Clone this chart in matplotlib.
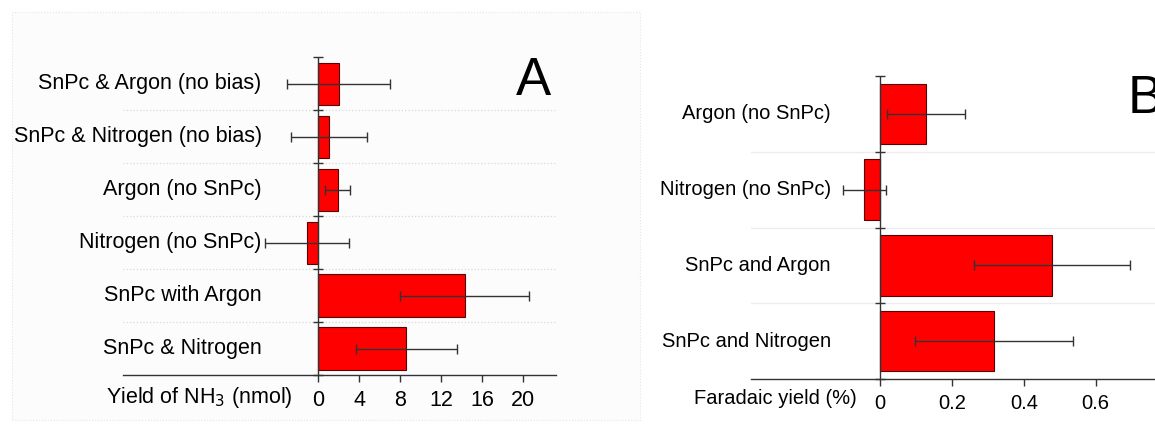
import matplotlib.pyplot as plt
import matplotlib.patches as mpatches
import numpy as np

plt.rcParams['font.family'] = ['Liberation Sans', 'DejaVu Sans']

# panel A: yield of NH3 (nmol)
A_LABELS = ['SnPc & Argon (no bias)', 'SnPc & Nitrogen (no bias)', 'Argon (no SnPc)',
            'Nitrogen (no SnPc)', 'SnPc with Argon', 'SnPc & Nitrogen']
A_VALUES = [2.0, 1.1, 1.9, -1.1, 14.3, 8.6]
A_ERRORS = [5.0, 3.7, 1.25, 4.1, 6.3, 4.9]
A_TICKS = [0, 4, 8, 12, 16, 20]

# panel B: faradaic yield (%)
B_LABELS = ['Argon (no SnPc)', 'Nitrogen (no SnPc)', 'SnPc and Argon', 'SnPc and Nitrogen']
B_VALUES = [0.128, -0.044, 0.479, 0.318]
B_ERRORS = [0.109, 0.06, 0.218, 0.22]
B_TICKS = [0, 0.2, 0.4, 0.6]

fig = plt.figure(figsize=(11.55, 4.32), dpi=100)

# faint background of the left pasted panel
fig.patches.append(mpatches.Rectangle((12 / 1155, 12 / 432), 628 / 1155, 408 / 432,
                                      transform=fig.transFigure, facecolor='#fcfcfc',
                                      edgecolor='#e6e6e6', lw=0.8, ls=':', zorder=-5))


def hbar_panel(ax, labels, values, errors, ticks, xlim, label_x, xlabel, xlabel_pos,
               letter, letter_pos, fs, grid_ls, grid_col):
    n = len(labels)
    y = np.arange(n)
    ax.set_xlim(*xlim)
    ax.set_ylim(n - 0.5, -0.5)
    for s in ['left', 'right', 'top']:
        ax.spines[s].set_visible(False)
    ax.spines['bottom'].set_color('#333333')
    ax.spines['bottom'].set_linewidth(1.0)
    ax.patch.set_alpha(0)

    for b in np.arange(0.5, n - 0.5, 1):
        ax.axhline(b, color=grid_col, lw=0.9, ls=grid_ls, zorder=0)

    ax.barh(y, values, height=0.8, color='#ff0000', edgecolor='#5a0000', lw=0.8, zorder=2)
    ax.errorbar(values, y, xerr=errors, fmt='none', ecolor='#333333', elinewidth=1.0,
                capsize=3.5, capthick=1.0, zorder=3)

    # vertical zero axis with small crossing ticks at the category borders
    ax.plot([0, 0], [-0.5, n - 0.5], color='#333333', lw=1.0, zorder=4)
    ax.plot(np.zeros(n + 1), np.arange(-0.5, n, 1), ls='none', marker='_',
            ms=7, mew=1.0, color='#333333', zorder=4, clip_on=False)

    ax.set_yticks([])
    ax.set_xticks(ticks)
    ax.set_xticklabels([('%g' % t) for t in ticks], fontsize=fs)
    ax.tick_params(axis='x', length=5, width=1.0, color='#333333', pad=6)

    for yi, lab in zip(y, labels):
        ax.text(label_x, yi, lab, ha='right', va='center', fontsize=fs)
    ax.text(xlabel_pos[0], xlabel_pos[1], xlabel, ha='right', va='center', fontsize=fs,
            transform=fig.transFigure)
    ax.text(letter_pos[0], letter_pos[1], letter, ha='left', va='center', fontsize=38,
            transform=fig.transFigure)


ax_a = fig.add_axes([0.1068, 0.132, 0.375, 0.735])
hbar_panel(ax_a, A_LABELS, A_VALUES, A_ERRORS, A_TICKS, (-19.0, 23.25), -5.5,
           'Yield of NH$_3$ (nmol)', (293 / 1155, 1 - 397 / 432),
           'A', (516 / 1155, 1 - 81 / 432), 15.5, ':', '#d9d9d9')

ax_b = fig.add_axes([751 / 1155, 1 - 379 / 432, 0.40, (379 - 76) / 432])
b_right = -0.36 + 0.40 * 1155 / 359
hbar_panel(ax_b, B_LABELS, B_VALUES, B_ERRORS, B_TICKS, (-0.36, b_right), -0.138,
           'Faradaic yield (%)', (857 / 1155, 1 - 399 / 432),
           'B', (1128 / 1155, 1 - 99 / 432), 14.5, '-', '#ececec')

fig.savefig('out.png', dpi=100)
